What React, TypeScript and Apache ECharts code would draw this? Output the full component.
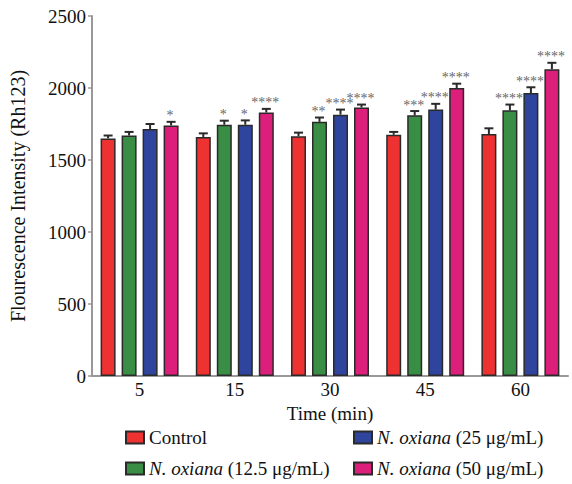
import React, { useEffect, useRef } from "react";
import * as echarts from "echarts";

const categories = ["5", "15", "30", "45", "60"];
const seriesNames = [
  "Control",
  "N. oxiana (12.5 μg/mL)",
  "N. oxiana (25 μg/mL)",
  "N. oxiana (50 μg/mL)",
];
const controlValues = [1650, 1660, 1665, 1675, 1680];
const dose125Values = [1670, 1745, 1765, 1810, 1845];
const dose25Values = [1715, 1745, 1815, 1850, 1965];
const dose50Values = [1740, 1830, 1865, 2000, 2130];

const controlErr = [20, 25, 25, 20, 40];
const dose125Err = [25, 28, 30, 30, 40];
const dose25Err = [35, 30, 35, 40, 40];
const dose50Err = [25, 25, 20, 30, 45];

const controlStars = ["", "", "", "", ""];
const dose125Stars = ["", "*", "**", "***", "****"];
const dose25Stars = ["", "*", "****", "****", "****"];
const dose50Stars = ["*", "****", "****", "****", "****"];

const yTicks = [0, 500, 1000, 1500, 2000, 2500];

const colors = ["#ee3131", "#3a8d44", "#2f449c", "#db1f7b"];
const FONT = "Liberation Serif";

const allValues = [controlValues, dose125Values, dose25Values, dose50Values];
const allErr = [controlErr, dose125Err, dose25Err, dose50Err];
const allStars = [controlStars, dose125Stars, dose25Stars, dose50Stars];

const BAR_W = 15;
const BAR_GAP = 6;

export default function App() {
  const ref = useRef<HTMLDivElement>(null);
  useEffect(() => {
    document.body.style.margin = "0";
    if (!ref.current) return;
    const chart = echarts.init(ref.current, undefined, { renderer: "svg" });

    const barSeries = allValues.map((vals, si) => ({
      name: seriesNames[si],
      type: "bar",
      data: vals,
      barWidth: BAR_W,
      barGap: `${(BAR_GAP / BAR_W) * 100}%`,
      itemStyle: { color: colors[si], borderColor: "#2a2a2a", borderWidth: 1.5 },
      z: 2,
    }));

    const errSeries = allValues.map((vals, si) => ({
      name: "err" + si,
      type: "custom",
      z: 5,
      data: vals.map((v, i) => [i, v, allErr[si][i]]),
      renderItem: (params: any, api: any) => {
        const ci = api.value(0);
        const v = api.value(1);
        const e = api.value(2);
        const top = api.coord([ci, v]);
        const cap = api.coord([ci, v + e]);
        const x = top[0] + (si - 1.5) * (BAR_W + BAR_GAP);
        const star = allStars[si][params.dataIndex];
        const children: any[] = [
          {
            type: "line",
            shape: { x1: x, y1: top[1], x2: x, y2: cap[1] },
            style: { stroke: "#2a2a2a", lineWidth: 2 },
          },
          {
            type: "line",
            shape: { x1: x - 4.5, y1: cap[1], x2: x + 4.5, y2: cap[1] },
            style: { stroke: "#2a2a2a", lineWidth: 2 },
          },
        ];
        if (star) {
          children.push({
            type: "text",
            x: x - 1,
            y: cap[1] - 6,
            style: {
              text: star,
              fill: "#666",
              font: `14px ${FONT}`,
              textAlign: "center",
              textVerticalAlign: "middle",
            },
          });
        }
        return { type: "group", children };
      },
    }));

    const legendFormatter = (name: string) => {
      if (name === "Control") return "Control";
      return "{i|N. oxiana}" + name.slice("N. oxiana".length);
    };
    const legendText = {
      fontFamily: FONT,
      fontSize: 19,
      color: "#111",
      rich: {
        i: { fontFamily: FONT, fontSize: 19, fontStyle: "italic", color: "#111" },
      },
    };

    chart.setOption({
      animation: false,
      grid: { left: 85, right: 4, top: 16, bottom: 108 },
      legend: [
        {
          data: [seriesNames[0], seriesNames[1]],
          orient: "vertical",
          left: 120,
          top: 423,
          itemGap: 12,
          itemWidth: 18,
          itemHeight: 12,
          icon: "rect",
          formatter: legendFormatter,
          textStyle: legendText,
        },
        {
          data: [seriesNames[2], seriesNames[3]],
          orient: "vertical",
          left: 348,
          top: 423,
          itemGap: 12,
          itemWidth: 18,
          itemHeight: 12,
          icon: "rect",
          formatter: legendFormatter,
          textStyle: legendText,
        },
      ],
      xAxis: {
        type: "category",
        data: categories,
        name: "Time (min)",
        nameLocation: "middle",
        nameGap: 26,
        nameTextStyle: { fontFamily: FONT, fontSize: 19, color: "#111" },
        axisLine: { lineStyle: { color: "#999", width: 2 } },
        axisTick: { show: false },
        axisLabel: { fontFamily: FONT, fontSize: 19, color: "#111", margin: 4 },
      },
      yAxis: {
        type: "value",
        min: 0,
        max: 2500,
        interval: 500,
        name: "Flourescence Intensity (Rh123)",
        nameLocation: "middle",
        nameGap: 64,
        nameTextStyle: { fontFamily: FONT, fontSize: 20, color: "#111" },
        axisLine: { show: true, lineStyle: { color: "#999", width: 2 } },
        axisTick: { show: true, length: 4, lineStyle: { color: "#999", width: 1.5 } },
        splitLine: { show: false },
        axisLabel: {
          fontFamily: FONT,
          fontSize: 19,
          color: "#111",
          margin: 6,
          formatter: (v: number) => (yTicks.includes(v) ? String(v) : ""),
        },
      },
      series: [...barSeries, ...errSeries],
    });
    return () => chart.dispose();
  }, []);
  return <div ref={ref} style={{ width: 572, height: 484 }} />;
}
